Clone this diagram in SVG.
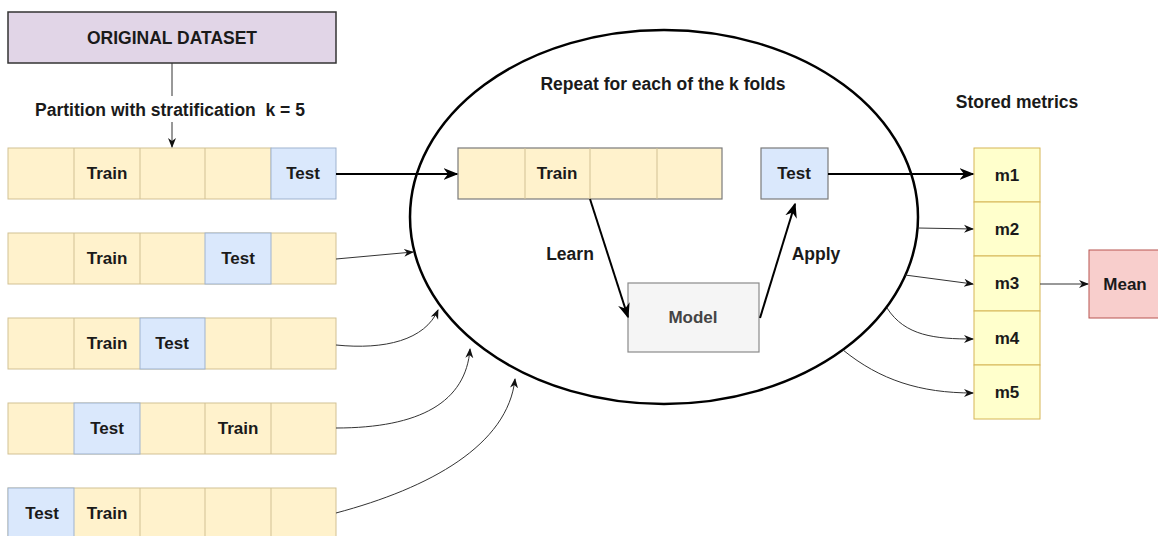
<svg xmlns="http://www.w3.org/2000/svg" width="1158" height="536" viewBox="0 0 1158 536">
  <defs>
    <style>
      text { font-family: "Liberation Sans", Arial, sans-serif; font-weight: bold; font-size: 17px; fill: #1a1a1a; text-anchor: middle; dominant-baseline: central; }
      .label { font-size: 17.5px; }
      .train { fill: #fff2cc; stroke: #d2c194; stroke-width: 1; }
      .test { fill: #dae8fc; stroke: #9fb3cf; stroke-width: 1; }
      .inner-train { fill: #fff2cc; stroke: #7a7a7a; stroke-width: 1.2; }
      .inner-test { fill: #dae8fc; stroke: #7a7a7a; stroke-width: 1.2; }
      .divider { stroke: #d2c194; stroke-width: 1; }
      .metric { fill: #ffffcc; stroke: #d6b656; stroke-width: 1; }
      .thin { fill: none; stroke: #333; stroke-width: 1; marker-end: url(#head-thin); }
      .thick { fill: none; stroke: #000; stroke-width: 2; marker-end: url(#head-thick); }
    </style>
    <marker id="head-thin" viewBox="0 0 10 10" refX="9" refY="5" markerWidth="10" markerHeight="10" markerUnits="userSpaceOnUse" orient="auto">
      <path d="M0,1 L10,5 L0,9 L3,5 z" fill="#111"/>
    </marker>
    <marker id="head-thick" viewBox="0 0 10 10" refX="9" refY="5" markerWidth="15" markerHeight="15" markerUnits="userSpaceOnUse" orient="auto">
      <path d="M0,1 L10,5 L0,9 L3,5 z" fill="#000"/>
    </marker>
  </defs>

  <rect width="1158" height="536" fill="#ffffff"/>

  <!-- source dataset -->
  <g id="dataset">
    <rect x="8" y="12" width="328" height="51" fill="#e1d5e7" stroke="#333" stroke-width="1.5"/>
    <text x="172" y="38" style="font-size:17.5px">ORIGINAL DATASET</text>
  </g>

  <g id="partition-label">
    <text class="label" x="170" y="110" xml:space="preserve">Partition with stratification  k = 5</text>
  </g>

  <!-- fold 1 -->
  <g id="fold1">
    <rect class="train" x="8" y="148" width="263" height="51"/>
    <rect class="test" x="271" y="148" width="65" height="51"/>
    <line class="divider" x1="74" y1="148" x2="74" y2="199"/>
    <line class="divider" x1="140" y1="148" x2="140" y2="199"/>
    <line class="divider" x1="205" y1="148" x2="205" y2="199"/>
    <text x="107" y="173">Train</text>
    <text x="303" y="173">Test</text>
  </g>

  <!-- fold 2 -->
  <g id="fold2">
    <rect class="train" x="8" y="233" width="328" height="51"/>
    <rect class="test" x="205" y="233" width="66" height="51"/>
    <line class="divider" x1="74" y1="233" x2="74" y2="284"/>
    <line class="divider" x1="140" y1="233" x2="140" y2="284"/>
    <text x="107" y="258">Train</text>
    <text x="238" y="258">Test</text>
  </g>

  <!-- fold 3 -->
  <g id="fold3">
    <rect class="train" x="8" y="318" width="328" height="51"/>
    <rect class="test" x="140" y="318" width="65" height="51"/>
    <line class="divider" x1="74" y1="318" x2="74" y2="369"/>
    <line class="divider" x1="271" y1="318" x2="271" y2="369"/>
    <text x="107" y="343">Train</text>
    <text x="172" y="343">Test</text>
  </g>

  <!-- fold 4 -->
  <g id="fold4">
    <rect class="train" x="8" y="403" width="328" height="51"/>
    <rect class="test" x="74" y="403" width="66" height="51"/>
    <line class="divider" x1="205" y1="403" x2="205" y2="454"/>
    <line class="divider" x1="271" y1="403" x2="271" y2="454"/>
    <text x="107" y="428">Test</text>
    <text x="238" y="428">Train</text>
  </g>

  <!-- fold 5 -->
  <g id="fold5">
    <rect class="train" x="8" y="488" width="328" height="51"/>
    <rect class="test" x="8" y="488" width="66" height="51"/>
    <line class="divider" x1="140" y1="488" x2="140" y2="539"/>
    <line class="divider" x1="205" y1="488" x2="205" y2="539"/>
    <line class="divider" x1="271" y1="488" x2="271" y2="539"/>
    <text x="42" y="513">Test</text>
    <text x="107" y="513">Train</text>
  </g>

  <!-- repeated loop -->
  <g id="loop">
    <ellipse cx="664" cy="217" rx="254" ry="187" fill="none" stroke="#000" stroke-width="2.5"/>
    <text class="label" x="663" y="84">Repeat for each of the k folds</text>
  </g>

  <g id="inner-train">
    <rect class="inner-train" x="458" y="148" width="264" height="51"/>
    <line class="divider" x1="525" y1="148" x2="525" y2="199"/>
    <line class="divider" x1="590" y1="148" x2="590" y2="199"/>
    <line class="divider" x1="657" y1="148" x2="657" y2="199"/>
    <text x="557" y="173">Train</text>
  </g>

  <g id="inner-test">
    <rect class="inner-test" x="761" y="148" width="67" height="51"/>
    <text x="794" y="173">Test</text>
  </g>

  <g id="model">
    <rect x="628" y="283" width="131" height="69" fill="#f5f5f5" stroke="#8a8a8a" stroke-width="1.2"/>
    <text x="693" y="317" style="fill:#444">Model</text>
  </g>

  <g id="learn-label"><text class="label" x="570" y="254">Learn</text></g>
  <g id="apply-label"><text class="label" x="816" y="254">Apply</text></g>

  <!-- metrics store -->
  <g id="metrics">
    <text class="label" x="1017" y="102">Stored metrics</text>
    <rect class="metric" x="974" y="148" width="66" height="54"/>
    <rect class="metric" x="974" y="202" width="66" height="54"/>
    <rect class="metric" x="974" y="256" width="66" height="55"/>
    <rect class="metric" x="974" y="311" width="66" height="54"/>
    <rect class="metric" x="974" y="365" width="66" height="54"/>
    <text x="1007" y="175">m1</text>
    <text x="1007" y="229">m2</text>
    <text x="1007" y="283">m3</text>
    <text x="1007" y="338">m4</text>
    <text x="1007" y="392">m5</text>
  </g>

  <g id="mean">
    <rect x="1089" y="250" width="72" height="68" fill="#f8cecc" stroke="#b85450" stroke-width="1"/>
    <text x="1125" y="284">Mean</text>
  </g>

  <!-- connectors -->
  <g id="connectors">
    <line x1="172" y1="63" x2="172" y2="96" stroke="#333" stroke-width="1"/>
    <line class="thin" x1="172" y1="122" x2="172" y2="147"/>

    <line class="thick" x1="336" y1="174" x2="457" y2="174"/>
    <path class="thin" d="M336,259 L413,252"/>
    <path class="thin" d="M336,345 C385,350 425,340 438,310"/>
    <path class="thin" d="M336,428 C420,428 466,402 470,349"/>
    <path class="thin" d="M336,513 C430,488 508,445 515,379"/>

    <line class="thick" x1="590" y1="199" x2="628" y2="317"/>
    <line class="thick" x1="760" y1="318" x2="795" y2="204"/>

    <line class="thick" x1="828" y1="174" x2="973" y2="174"/>
    <path class="thin" d="M918,228 L973,229"/>
    <path class="thin" d="M905,275 L973,284"/>
    <path class="thin" d="M887,308 C905,336 935,339 973,339"/>
    <path class="thin" d="M843,350 C880,380 920,393 973,393"/>

    <line class="thin" x1="1040" y1="284" x2="1088" y2="284"/>
  </g>
</svg>
